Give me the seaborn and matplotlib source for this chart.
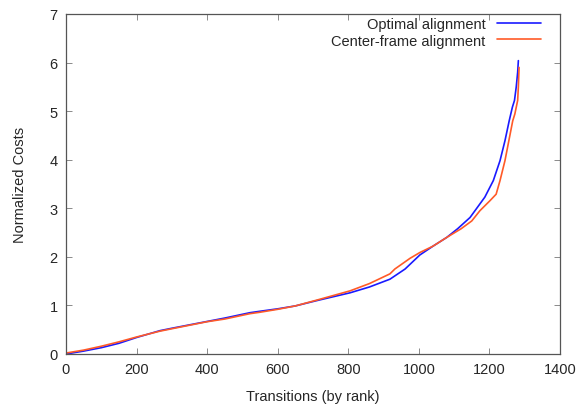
import matplotlib
matplotlib.use("Agg")
import matplotlib.pyplot as plt
import seaborn as sns
import pandas as pd

# Data
opt_rank = [0, 50, 100, 150, 200, 266, 300, 400, 450, 521, 550, 600, 650, 711,
            805, 860, 918, 961, 1003, 1040, 1079, 1110, 1145, 1159, 1187, 1211,
            1230, 1244, 1256, 1265, 1271, 1276, 1280, 1282]
opt_cost = [0.0, 0.06, 0.13, 0.22, 0.34, 0.48, 0.53, 0.67, 0.74, 0.85, 0.88, 0.93,
            0.99, 1.10, 1.26, 1.38, 1.54, 1.75, 2.04, 2.22, 2.40, 2.58, 2.81, 2.95,
            3.23, 3.57, 3.98, 4.39, 4.80, 5.08, 5.22, 5.50, 5.80, 6.04]

ctr_rank = [0, 50, 100, 150, 200, 266, 300, 400, 450, 521, 550, 600, 650, 711,
            805, 860, 918, 932, 975, 1003, 1040, 1079, 1120, 1150, 1173, 1202,
            1219, 1230, 1244, 1255, 1266, 1272, 1280, 1282, 1284]
ctr_cost = [0.02, 0.08, 0.16, 0.25, 0.35, 0.47, 0.52, 0.665, 0.72, 0.83, 0.86, 0.92,
            0.99, 1.11, 1.30, 1.45, 1.65, 1.75, 1.97, 2.09, 2.22, 2.40, 2.58, 2.74,
            2.95, 3.16, 3.29, 3.57, 3.98, 4.39, 4.80, 4.94, 5.22, 5.50, 5.90]

series_names = ["Optimal alignment", "Center-frame alignment"]
series_colors = ["#1a1aff", "#ff5a28"]

x_ticks = [0, 200, 400, 600, 800, 1000, 1200, 1400]
y_ticks = [0, 1, 2, 3, 4, 5, 6, 7]

df = pd.concat([
    pd.DataFrame({"rank": opt_rank, "cost": opt_cost, "series": series_names[0]}),
    pd.DataFrame({"rank": ctr_rank, "cost": ctr_cost, "series": series_names[1]}),
], ignore_index=True)

sns.set_style("ticks")
plt.rcParams["font.family"] = ["Liberation Sans", "DejaVu Sans"]

fig = plt.figure(figsize=(5.81, 4.06), dpi=100)
ax = fig.add_axes([66 / 581, 51 / 406, 494 / 581, 340 / 406])

sns.lineplot(data=df, x="rank", y="cost", hue="series", hue_order=series_names,
             palette=series_colors, linewidth=1.2, sort=False, estimator=None,
             ax=ax)

ax.set_xlim(0, 1400)
ax.set_ylim(0, 7)
ax.set_xticks(x_ticks)
ax.set_yticks(y_ticks)
ax.tick_params(direction="in", top=True, right=True, length=4, width=0.6,
               color="#777777", labelsize=10.5, pad=6)
for s in ax.spines.values():
    s.set_visible(True)
    s.set_color("#555555")
    s.set_linewidth(0.9)

ax.set_xlabel("Transitions (by rank)", fontsize=10.5, labelpad=9)
ax.set_ylabel("Normalized Costs", fontsize=10.5, labelpad=16)

handles, labels = ax.get_legend_handles_labels()
ax.legend(handles, labels, loc="upper right", bbox_to_anchor=(0.982, 1.02),
          frameon=False, markerfirst=False, fontsize=10.5, handlelength=3.0,
          handletextpad=0.8, labelspacing=0.15, borderpad=0.2)

fig.savefig("out.png", dpi=100)
